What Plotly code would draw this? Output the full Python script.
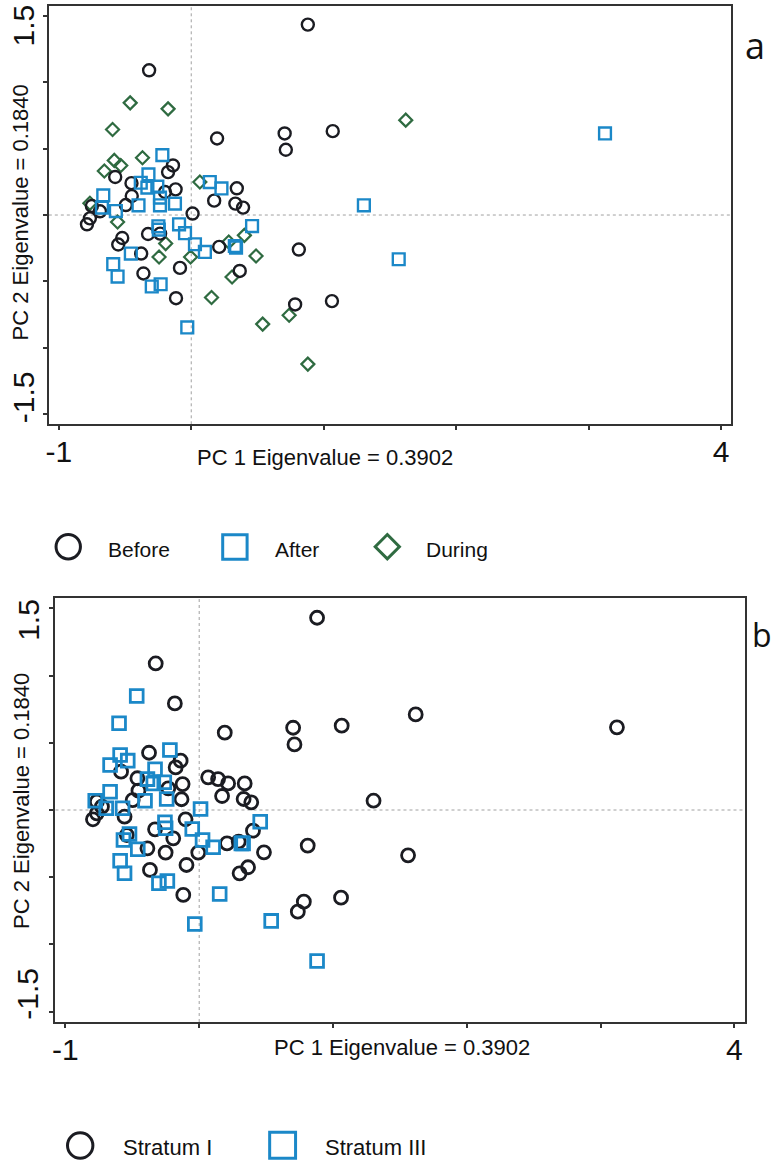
import plotly.graph_objects as go

W, H = 775, 1162

# ---------------- data : panel a (sampling period) ----------------
before_x = [0.880, -0.318, 0.195, 0.705, 0.714, 1.068, -0.138, -0.175, -0.574, -0.451,
            -0.118, -0.198, -0.449, -0.494, 0.344, 0.173, 0.333, 0.391, 0.010, -0.750,
            -0.689, -0.765, -0.787, -0.521, -0.551, -0.326, -0.235, -0.378, -0.361, -0.085,
            -0.115, 0.211, 0.366, 0.812, 0.784, 1.062]
before_y = [1.433, 1.089, 0.576, 0.614, 0.491, 0.631, 0.373, 0.323, 0.286, 0.240,
            0.193, 0.173, 0.143, 0.075, 0.201, 0.108, 0.086, 0.056, 0.011, 0.068,
            0.028, -0.025, -0.070, -0.173, -0.222, -0.143, -0.140, -0.290, -0.440, -0.398,
            -0.626, -0.240, -0.421, -0.260, -0.673, -0.648]

after_x = [-0.218, -0.323, -0.381, -0.331, -0.256, 0.140, 0.228, -0.664, -0.674, -0.569,
           -0.398, -0.236, -0.236, -0.123, -0.248, -0.245, -0.092, -0.047, 0.028, 0.103,
           0.329, 0.338, 0.459, -0.456, -0.589, -0.556, -0.298, -0.231, -0.030, 1.303,
           1.566, 3.123]
after_y = [0.451, 0.306, 0.243, 0.206, 0.213, 0.248, 0.200, 0.148, 0.056, 0.030,
           0.073, 0.131, 0.073, 0.086, -0.085, -0.110, -0.070, -0.137, -0.220, -0.278,
           -0.233, -0.245, -0.083, -0.290, -0.370, -0.463, -0.538, -0.521, -0.846, 0.073,
           -0.333, 0.614]

during_x = [-0.461, -0.175, -0.594, -0.581, -0.532, -0.656, -0.368, 0.065, -0.765, -0.556,
            -0.193, -0.243, -0.005, 0.283, 0.401, 0.489, 0.308, 0.153, 0.539, 0.739,
            0.880, 1.619]
during_y = [0.844, 0.799, 0.644, 0.411, 0.373, 0.331, 0.431, 0.248, 0.088, -0.053,
            -0.215, -0.316, -0.316, -0.203, -0.153, -0.308, -0.466, -0.621, -0.821, -0.754,
            -1.122, 0.714]

# ---------------- data : panel b (stratum) ----------------
stratum1_x = [0.881, -0.325, -0.182, 0.191, 0.702, 0.712, 1.065, 1.303, 1.561, 1.618,
              3.122, 0.811, 0.782, 0.737, 1.060, -0.119, -0.095, -0.007, 0.208, 0.295,
              0.402, 0.484, 0.302, 0.365, -0.368, -0.251, -0.194, -0.387, -0.330, -0.102,
              -0.541, -0.558, -0.794, -0.765, -0.727, -0.765, -0.497, -0.454, -0.462, -0.584,
              -0.375, -0.139, -0.176, -0.124, -0.231, -0.132, 0.067, 0.141, 0.216, 0.340,
              0.171, 0.332, 0.389]
stratum1_y = [1.430, 1.090, 0.793, 0.575, 0.612, 0.488, 0.627, 0.069, -0.337, 0.711,
              0.615, -0.265, -0.682, -0.756, -0.652, -0.632, -0.409, -0.317, -0.248, -0.235,
              -0.154, -0.315, -0.471, -0.426, -0.446, -0.317, -0.211, -0.285, -0.144, -0.069,
              -0.186, -0.050, -0.069, -0.025, 0.025, 0.062, 0.074, 0.144, 0.236, 0.285,
              0.426, 0.367, 0.317, 0.193, 0.161, 0.080, 0.243, 0.230, 0.198, 0.198,
              0.104, 0.082, 0.057]

stratum3_x = [-0.467, -0.599, -0.591, -0.534, -0.666, -0.219, -0.330, -0.387, -0.343, -0.261,
              -0.666, -0.777, -0.695, -0.573, -0.405, -0.243, 0.010, -0.256, -0.251, -0.052,
              0.025, 0.104, 0.315, 0.328, 0.456, -0.521, -0.566, -0.459, -0.591, -0.558,
              -0.301, -0.238, 0.153, -0.033, 0.538, 0.881]
stratum3_y = [0.848, 0.645, 0.409, 0.367, 0.335, 0.446, 0.303, 0.230, 0.198, 0.206,
              0.136, 0.069, 0.013, 0.013, 0.069, 0.082, 0.007, -0.091, -0.136, -0.141,
              -0.223, -0.277, -0.248, -0.248, -0.087, -0.178, -0.223, -0.292, -0.377, -0.471,
              -0.545, -0.528, -0.625, -0.848, -0.825, -1.123]

# ---------------- axis labels / ticks ----------------
x_tickvals = [-1, 0, 1, 2, 3, 4]
x_ticktext = ["-1", "", "", "", "", "4"]
y_tickvals = [-1.5, -1.0, -0.5, 0.0, 0.5, 1.0, 1.5]
y_label_vals = [1.5, -1.5]
y_label_text = ["1.5", "-1.5"]
x_title = "PC 1 Eigenvalue = 0.3902"
y_title = "PC 2 Eigenvalue = 0.1840"
legend_a = ["Before", "After", "During"]
legend_b = ["Stratum I", "Stratum III"]

# ---------------- styles ----------------
C_BLACK = "#1b1c22"
C_BLUE = "#1b88c8"
C_GREEN = "#2f6b41"
AX = "#333333"
FONT = "Arial, Liberation Sans, sans-serif"


def pxx(p):
    return p / W


def pxy(p):
    return 1 - p / H


fig = go.Figure()

# panel a traces (drawing order: during, before, after)
fig.add_trace(go.Scatter(x=during_x, y=during_y, mode="markers", name=legend_a[2],
                         marker=dict(symbol="diamond-open", size=10, color=C_GREEN,
                                     line=dict(width=2.2, color=C_GREEN)),
                         xaxis="x", yaxis="y", showlegend=False))
fig.add_trace(go.Scatter(x=before_x, y=before_y, mode="markers", name=legend_a[0],
                         marker=dict(symbol="circle-open", size=12, color=C_BLACK,
                                     line=dict(width=2.4, color=C_BLACK)),
                         xaxis="x", yaxis="y", showlegend=False))
fig.add_trace(go.Scatter(x=after_x, y=after_y, mode="markers", name=legend_a[1],
                         marker=dict(symbol="square-open", size=11.8, color=C_BLUE,
                                     line=dict(width=2.4, color=C_BLUE)),
                         xaxis="x", yaxis="y", showlegend=False))

# panel b traces
fig.add_trace(go.Scatter(x=stratum1_x, y=stratum1_y, mode="markers", name=legend_b[0],
                         marker=dict(symbol="circle-open", size=13, color=C_BLACK,
                                     line=dict(width=2.8, color=C_BLACK)),
                         xaxis="x2", yaxis="y2", showlegend=False))
fig.add_trace(go.Scatter(x=stratum3_x, y=stratum3_y, mode="markers", name=legend_b[1],
                         marker=dict(symbol="square-open", size=12.8, color=C_BLUE,
                                     line=dict(width=2.8, color=C_BLUE)),
                         xaxis="x2", yaxis="y2", showlegend=False))


def xaxis_cfg(dom, rng, anchor):
    return dict(domain=dom, range=rng, anchor=anchor, tickmode="array",
                tickvals=x_tickvals, ticktext=x_ticktext, ticks="outside", ticklen=4,
                tickwidth=1.5, tickcolor=AX, showline=True, mirror=True, linecolor=AX,
                linewidth=2, showgrid=False, zeroline=False, ticklabelstandoff=-4,
                tickfont=dict(family=FONT, size=30, color="#111111"))


def yaxis_cfg(dom, rng, anchor):
    return dict(domain=dom, range=rng, anchor=anchor, tickmode="array",
                tickvals=y_tickvals, showticklabels=False, ticks="outside", ticklen=4,
                tickwidth=1.5, tickcolor=AX, showline=True, mirror=True, linecolor=AX,
                linewidth=2, showgrid=False, zeroline=False)


fig.update_layout(
    width=W, height=H,
    margin=dict(l=0, r=0, t=0, b=0),
    paper_bgcolor="white", plot_bgcolor="white",
    showlegend=False,
    xaxis=xaxis_cfg([pxx(46), pxx(730.7)], [-1.075, 4.073], "y"),
    yaxis=yaxis_cfg([pxy(424.3), pxy(6)], [-1.575, 1.573], "x"),
    xaxis2=xaxis_cfg([pxx(52.7), pxx(745)], [-1.074, 4.08], "y2"),
    yaxis2=yaxis_cfg([pxy(1022), pxy(598)], [-1.577, 1.577], "x2"),
)

shapes = []
# zero reference lines
for xr, yr in (("x", "y"), ("x2", "y2")):
    shapes.append(dict(type="line", xref=xr, yref=yr + " domain", x0=0, x1=0, y0=0, y1=1,
                       line=dict(color="#a0a0a0", width=1, dash="dot"), layer="below"))
    shapes.append(dict(type="line", xref=xr + " domain", yref=yr, x0=0, x1=1, y0=0, y1=0,
                       line=dict(color="#a0a0a0", width=1, dash="dot"), layer="below"))


def circle_shape(cx, cy, d, color, lw):
    r = (d - lw) / 2
    return dict(type="circle", xref="paper", yref="paper", x0=pxx(cx - r), x1=pxx(cx + r),
                y0=pxy(cy + r), y1=pxy(cy - r), line=dict(color=color, width=lw))


def square_shape(cx, cy, d, color, lw):
    r = (d - lw) / 2
    return dict(type="rect", xref="paper", yref="paper", x0=pxx(cx - r), x1=pxx(cx + r),
                y0=pxy(cy + r), y1=pxy(cy - r), line=dict(color=color, width=lw))


def diamond_shape(cx, cy, d, color, lw):
    r = (d - lw * 1.4) / 2
    path = "M {} {} L {} {} L {} {} L {} {} Z".format(
        pxx(cx), pxy(cy - r), pxx(cx + r), pxy(cy), pxx(cx), pxy(cy + r), pxx(cx - r), pxy(cy))
    return dict(type="path", xref="paper", yref="paper", path=path,
                line=dict(color=color, width=lw))


# custom legends
shapes.append(circle_shape(65.5, 546.7, 27.5, C_BLACK, 3))
shapes.append(square_shape(232.8, 547, 27.5, C_BLUE, 3))
shapes.append(diamond_shape(385.8, 546.7, 28.5, C_GREEN, 3))
shapes.append(circle_shape(77.5, 1145.5, 28.5, C_BLACK, 3))
shapes.append(square_shape(280.7, 1145.3, 29, C_BLUE, 3))
fig.update_layout(shapes=shapes)

ann = []
# y tick labels (rotated, kept inside the axis span)
for yr, xs, shifts in (("y", -25, (-10, 17)), ("y2", -27.7, (-11.7, 17.7))):
    xr = "x" if yr == "y" else "x2"
    for v, t, s in zip(y_label_vals, y_label_text, shifts):
        ann.append(dict(text=t, xref=xr + " domain", yref=yr, x=0, y=v, xshift=xs, yshift=s,
                        showarrow=False, textangle=-90, xanchor="center", yanchor="middle",
                        font=dict(family=FONT, size=30, color="#111111")))

# axis titles
ann.append(dict(text=x_title, xref="paper", yref="paper", x=pxx(193), y=pxy(457),
                xanchor="left", yanchor="middle", showarrow=False,
                font=dict(family=FONT, size=22, color="#111111")))
ann.append(dict(text=x_title, xref="paper", yref="paper", x=pxx(270), y=pxy(1047),
                xanchor="left", yanchor="middle", showarrow=False,
                font=dict(family=FONT, size=22, color="#111111")))
ann.append(dict(text=y_title, xref="paper", yref="paper", x=pxx(18), y=pxy(212.5),
                xanchor="center", yanchor="middle", showarrow=False, textangle=-90,
                font=dict(family=FONT, size=22, color="#111111")))
ann.append(dict(text=y_title, xref="paper", yref="paper", x=pxx(18), y=pxy(801),
                xanchor="center", yanchor="middle", showarrow=False, textangle=-90,
                font=dict(family=FONT, size=22, color="#111111")))

# legend texts
for t, lx in zip(legend_a, (103, 270.7, 423)):
    ann.append(dict(text=t, xref="paper", yref="paper", x=pxx(lx), y=pxy(549),
                    xanchor="left", yanchor="middle", showarrow=False,
                    font=dict(family=FONT, size=21, color="#111111")))
for t, lx in zip(legend_b, (118.3, 321.7)):
    ann.append(dict(text=t, xref="paper", yref="paper", x=pxx(lx), y=pxy(1147),
                    xanchor="left", yanchor="middle", showarrow=False,
                    font=dict(family=FONT, size=22, color="#111111")))

# panel labels
ann.append(dict(text="a", xref="paper", yref="paper", x=pxx(755), y=pxy(45),
                xanchor="center", yanchor="middle", showarrow=False,
                font=dict(family="Open Sans, sans-serif", size=36, color="#111111")))
ann.append(dict(text="b", xref="paper", yref="paper", x=pxx(774), y=pxy(634),
                xanchor="right", yanchor="middle", showarrow=False,
                font=dict(family="Open Sans, sans-serif", size=32, color="#111111")))

fig.update_layout(annotations=ann)

fig.write_html("out.html")
